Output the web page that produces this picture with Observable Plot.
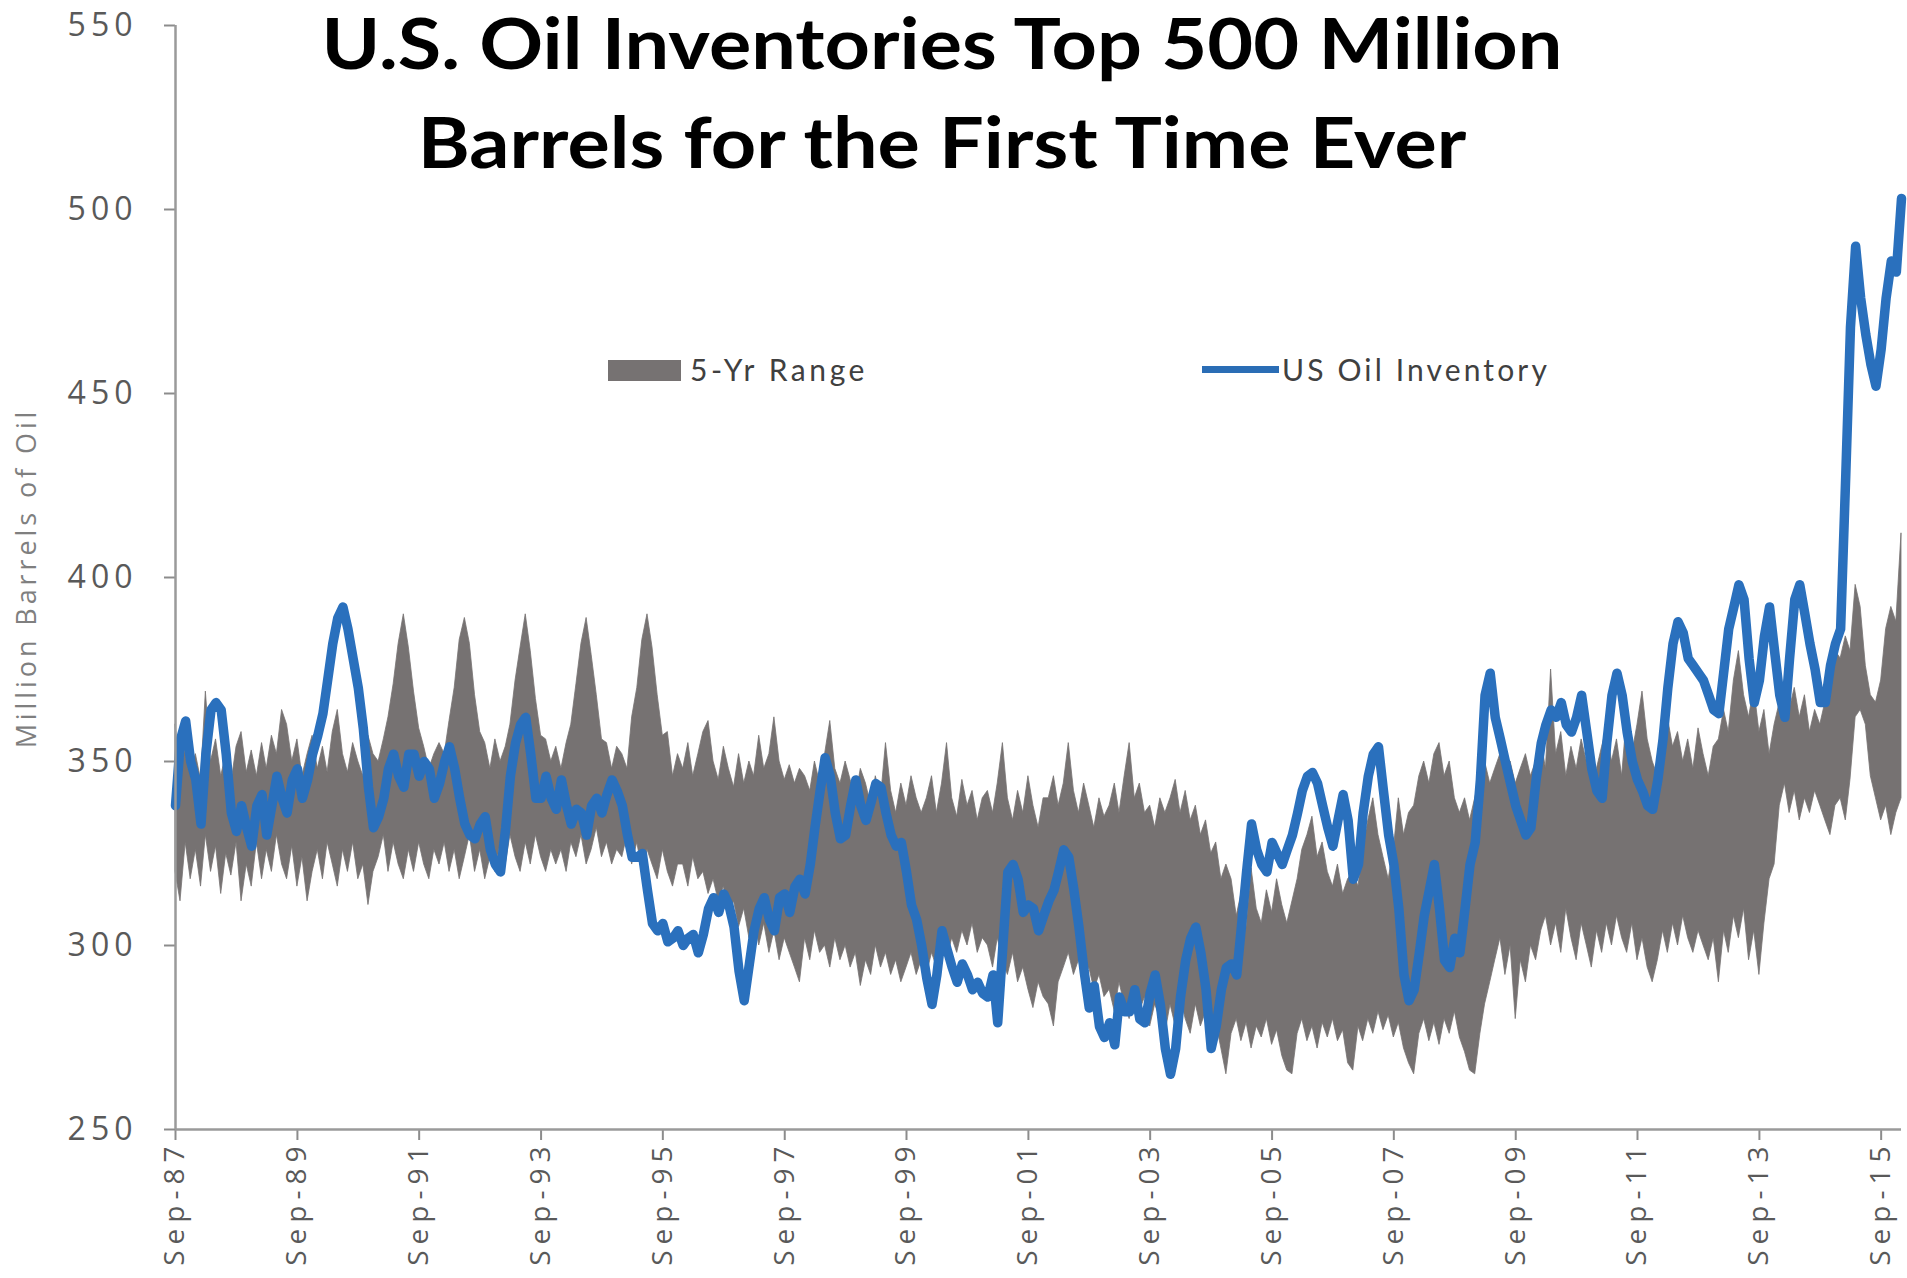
<!DOCTYPE html>
<html>
<head>
<meta charset="utf-8">
<script src="https://cdn.jsdelivr.net/npm/d3@7"></script>
<script src="https://cdn.jsdelivr.net/npm/@observablehq/plot@0.6"></script>
<style>
  html, body { margin: 0; padding: 0; background: #fff; }
  #wrap { position: relative; width: 1907px; height: 1278px; overflow: hidden; }
  #chart svg { display: block; }
  #chart g[aria-label^="y-axis"] text { font-family: "Open Sans", sans-serif; font-size: 32px; letter-spacing: 5px; fill: #595959; }
  #chart g[aria-label^="x-axis"] text { font-family: "Open Sans", sans-serif; font-size: 28px; letter-spacing: 6px; fill: #595959; }
  #chart g[aria-label^="x-axis"], #chart g[aria-label^="y-axis"] { color: #8c8c8c; }
  #chart g[aria-label^="x-axis"] line, #chart g[aria-label^="x-axis"] path,
  #chart g[aria-label^="y-axis"] line, #chart g[aria-label^="y-axis"] path { stroke-width: 2px; }
  .title { position: absolute; left: 942px; font-family: Lato, sans-serif; font-weight: 700; font-size: 71px; line-height: 99px; color: #000; white-space: nowrap; transform-origin: center top; }
  .legtext { position: absolute; font-family: Lato, sans-serif; font-size: 30px; line-height: 36px; color: #404040; white-space: nowrap; }
  .swatch { position: absolute; }
  #ylabel { position: absolute; left: 25px; top: 578px; font-family: "Open Sans", sans-serif; font-size: 27px; color: #7f7f7f; white-space: nowrap; transform: translate(-50%, -50%) rotate(-90deg); }
</style>
</head>
<body>
<div id="wrap">
  <div id="chart"></div>
  <div class="title" id="t1" style="top:-8px">U.S. Oil Inventories Top 500 Million</div>
  <div class="title" id="t2" style="top:91px">Barrels for the First Time Ever</div>
  <div class="swatch" style="left:608px;top:360px;width:73px;height:21px;background:#767272"></div>
  <div class="legtext" id="l1" style="left:690px;top:351px">5-Yr Range</div>
  <div class="swatch" style="left:1202px;top:366px;width:77px;height:7px;background:#2a6db5"></div>
  <div class="legtext" id="l2" style="left:1282px;top:351px">US Oil Inventory</div>
  <div id="ylabel">Million Barrels of Oil</div>
</div>
<script>
// Monthly series starting September 1987 (one value per month, last = Jan 2016)
const startYear = 1987, startMonth = 8;

const inventory = [
  338, 356, 361, 350,                                            // 1987 Sep-Dec
  345, 333, 352, 364, 366, 364, 352, 336, 331, 338, 332, 327,    // 1988
  338, 341, 330, 338, 346, 340, 336, 345, 348, 340, 345, 352,    // 1989
  357, 363, 372, 382, 389, 392, 386, 378, 370, 359, 343, 332,    // 1990
  335, 340, 348, 352, 346, 343, 352, 352, 346, 350, 348, 340,    // 1991
  344, 350, 354, 348, 340, 333, 330, 329, 333, 335, 326, 322,    // 1992
  320, 332, 346, 355, 360, 362, 352, 340, 340, 346, 340, 337,    // 1993
  345, 338, 333, 337, 336, 330, 338, 340, 336, 341, 345, 342,    // 1994
  338, 330, 324, 324, 325, 315, 306, 304, 306, 301, 302, 304,    // 1995
  300, 302, 303, 298, 303, 310, 313, 309, 314, 311, 305, 293,    // 1996
  285, 295, 304, 310, 313, 307, 304, 313, 314, 309, 316, 318,    // 1997
  314, 322, 332, 342, 351, 346, 336, 329, 330, 338, 345, 338,    // 1998
  334, 339, 344, 343, 336, 330, 327, 328, 320, 311, 307, 300,    // 1999
  291, 284, 292, 304, 299, 294, 290, 295, 292, 288, 290, 287,    // 2000
  286, 292, 279, 300, 320, 322, 318, 309, 311, 310, 304, 308,    // 2001
  312, 315, 320, 326, 324, 315, 305, 293, 283, 289, 278, 275,    // 2002
  279, 273, 286, 282, 282, 288, 280, 279, 287, 292, 284, 272,    // 2003
  265, 272, 286, 296, 302, 305, 298, 288, 272, 278, 288, 294,    // 2004
  295, 292, 305, 320, 333, 326, 322, 320, 328, 325, 322, 326,    // 2005
  330, 336, 342, 346, 347, 344, 338, 332, 327, 334, 341, 334,    // 2006
  318, 322, 336, 346, 352, 354, 342, 330, 322, 310, 292, 285,    // 2007
  288, 298, 308, 315, 322, 310, 296, 294, 302, 298, 310, 322,    // 2008
  328, 345, 368, 374, 362, 356, 350, 344, 338, 334, 330, 332,    // 2009
  345, 355, 360, 364, 362, 366, 360, 358, 362, 368, 358, 348,    // 2010
  342, 340, 355, 368, 374, 368, 358, 350, 345, 342, 338, 337,    // 2011
  345, 356, 370, 382, 388, 385, 378, 376, 374, 372, 368, 364,    // 2012
  363, 375, 386, 392, 398, 394, 378, 366, 372, 384, 392, 380,    // 2013
  368, 362, 378, 394, 398, 390, 382, 375, 366, 366, 376, 382,    // 2014
  386, 428, 468, 490, 476, 466, 458, 452, 462, 476, 486, 483,    // 2015
  503                                                            // 2016 Jan
];

const rangeHigh = [
  360, 346, 354, 347,
  352, 345, 369, 350, 356, 346, 352, 344, 354, 358, 347, 353,
  346, 355, 348, 357, 352, 364, 360, 350, 356, 346, 352, 357,
  348, 354, 347, 358, 364, 352, 347, 355, 350, 346, 357, 352,
  350, 356, 362, 371, 382, 390, 381, 369, 359, 354, 348, 352,
  355, 352, 361, 370, 383, 389, 382, 368, 358, 355, 348, 356,
  350, 354, 360, 372, 381, 390, 380, 367, 357, 356, 350, 354,
  348, 355, 360, 371, 382, 389, 379, 368, 356, 355, 348, 354,
  352, 348, 362, 370, 383, 390, 381, 368, 357, 358, 346, 352,
  348, 355, 346, 352, 358, 361, 350, 345, 354, 348, 343, 352,
  344, 350, 346, 357, 348, 352, 362, 350, 345, 349, 344, 348,
  346, 342, 350, 344, 352, 361, 348, 344, 350, 345, 340, 348,
  344, 338, 346, 340, 355, 342, 336, 344, 338, 346, 340, 336,
  340, 346, 336, 344, 355, 340, 335, 345, 338, 342, 334, 340,
  342, 336, 344, 355, 340, 334, 342, 336, 346, 338, 332, 340,
  340, 346, 338, 344, 355, 342, 336, 344, 338, 332, 340, 335,
  338, 344, 336, 346, 355, 340, 344, 336, 338, 332, 340, 336,
  340, 345, 336, 342, 334, 338, 330, 334, 325, 328, 318, 322,
  318, 308, 314, 305, 321, 310, 306, 315, 309, 318, 311, 306,
  312, 318, 326, 330, 335, 324, 328, 320, 316, 322, 314, 318,
  320, 316, 326, 334, 340, 330, 324, 318, 326, 340, 330, 336,
  338, 346, 350, 344, 352, 355, 346, 350, 340, 336, 340, 334,
  340, 346, 350, 344, 348, 352, 346, 350, 344, 348, 352, 346,
  350, 356, 348, 375, 352, 358, 346, 354, 348, 356, 350, 345,
  348, 354, 359, 350, 356, 346, 363, 352, 360, 369, 356, 350,
  346, 352, 362, 354, 358, 350, 356, 348, 359, 352, 346, 354,
  356, 364, 358, 372, 380, 368, 362, 370, 358, 364, 352, 360,
  366, 372, 364, 370, 362, 368, 358, 364, 360, 366, 372, 380,
  378, 384, 380, 398, 392, 376, 368, 366, 372, 386, 392, 388,
  412
];

const rangeLow = [
  320, 312, 328, 318,
  326, 316, 330, 320, 327, 314, 325, 319, 328, 312, 322, 316,
  328, 318, 326, 320, 330, 322, 318, 327, 316, 324, 312, 320,
  326, 318, 328, 322, 316, 326, 320, 328, 318, 322, 311, 320,
  324, 330, 320, 328, 322, 318, 326, 320, 328, 322, 318, 326,
  322, 328, 320, 326, 318, 324, 330, 320, 326, 318, 324, 320,
  328, 322, 330, 324, 320, 328, 322, 330, 324, 320, 326, 322,
  326, 320, 328, 324, 330, 322, 326, 332, 324, 328, 322, 326,
  324, 330, 322, 328, 320, 326, 322, 318, 326, 320, 316, 322,
  322, 316, 324, 318, 320, 314, 318, 312, 316, 308, 312, 305,
  310, 302, 308, 300, 306, 298, 304, 296, 302, 298, 294, 290,
  302, 296, 304, 298, 300, 294, 302, 296, 300, 294, 298, 289,
  296, 292, 300, 294, 298, 292, 296, 290, 294, 298, 292, 296,
  292, 298, 294, 300, 296, 302, 298, 304, 300, 306, 298, 302,
  300, 294, 302, 296, 292, 298, 290, 294, 288, 283, 290, 286,
  284, 278, 290, 294, 298, 292, 296, 290, 294, 288, 292, 286,
  288, 282, 290, 284, 280, 288, 282, 286, 278, 284, 280, 276,
  284, 278, 286, 280, 276, 284, 278, 282, 276, 279, 272, 265,
  276, 280, 274, 279, 272, 278, 275, 280, 273, 277, 270, 266,
  265, 276, 280, 274, 278, 272, 279, 275, 280, 274, 277, 268,
  266, 278, 274, 280, 276, 282, 277, 281, 275, 279, 272, 268,
  265, 276, 280, 274, 279, 273, 280, 276, 282, 275, 271, 266,
  265, 276, 284, 290, 296, 302, 292, 300, 280, 296, 290, 300,
  296, 304, 308, 300, 306, 298, 310, 302, 296, 306, 300, 294,
  304, 298, 306, 300, 308, 302, 298, 306, 296, 302, 294, 290,
  296, 304, 298, 306, 300, 308, 302, 298, 304, 300, 296, 302,
  290, 304, 298, 308, 302, 310, 296, 304, 292, 306, 318, 322,
  338, 344, 336, 342, 334, 340, 336, 342, 338, 334, 330, 338,
  340, 334, 345, 362, 364, 360, 346, 340, 334, 338, 330, 336,
  340
];

const tickYears = [1987, 1989, 1991, 1993, 1995, 1997, 1999, 2001, 2003, 2005, 2007, 2009, 2011, 2013, 2015];
const yTicks = [250, 300, 350, 400, 450, 500, 550];

const bandGray = "#767272";
const lineBlue = "#2a70bd";
const axisGray = "#9a9a9a";

const monthDate = i => new Date(Date.UTC(startYear, startMonth + i, 1));
const invData = inventory.map((v, i) => ({date: monthDate(i), v}));
const bandData = rangeLow.map((lo, i) => ({date: monthDate(i), lo, hi: rangeHigh[i]}));
const xStart = new Date(Date.UTC(1987, 8, 1));
const xEnd = new Date(Date.UTC(2016, 0, 1));

const chart = Plot.plot({
  width: 1907,
  height: 1278,
  marginLeft: 175,
  marginRight: 6,
  marginTop: 25,
  marginBottom: 149,
  style: {background: "#fff", fontFamily: '"Open Sans", sans-serif', overflow: "visible"},
  x: {
    type: "utc",
    domain: [xStart, xEnd],
    ticks: tickYears.map(y => new Date(Date.UTC(y, 8, 1))),
    tickFormat: d3.utcFormat("%b-%y"),
    tickRotate: -90,
    tickSize: 11,
    tickPadding: 0,
    label: null
  },
  y: {
    domain: [250, 550],
    ticks: yTicks,
    tickSize: 11,
    tickPadding: 27,
    label: null
  },
  marks: [
    Plot.areaY(bandData, {x: "date", y1: "lo", y2: "hi", fill: bandGray, stroke: bandGray, strokeWidth: 0.8}),
    Plot.lineY(invData, {x: "date", y: "v", stroke: lineBlue, strokeWidth: 9.5, strokeLinejoin: "round"}),
    Plot.ruleX([xStart], {stroke: axisGray, strokeWidth: 2.5}),
    Plot.ruleY([250], {stroke: axisGray, strokeWidth: 2.5})
  ]
});
document.getElementById("chart").appendChild(chart);

function fitText() {
  const t1 = document.getElementById("t1"), t2 = document.getElementById("t2");
  t1.style.transform = t2.style.transform = "none";
  const k = 1241 / t1.getBoundingClientRect().width;
  const tr = `translateX(-50%) scaleX(${k})`;
  t1.style.transform = tr;
  t2.style.transform = tr;
  const spaceFit = (id, target) => {
    const el = document.getElementById(id);
    el.style.letterSpacing = "0px";
    const w = el.getBoundingClientRect().width;
    const n = el.textContent.length;
    el.style.letterSpacing = ((target - w) / n) + "px";
  };
  spaceFit("l1", 178);
  spaceFit("l2", 268);
  const yl = document.getElementById("ylabel");
  yl.style.letterSpacing = "0px";
  const w = yl.offsetWidth;
  yl.style.letterSpacing = ((341 - w) / yl.textContent.length) + "px";
}
fitText();
if (document.fonts && document.fonts.ready) document.fonts.ready.then(fitText);
</script>
</body>
</html>
